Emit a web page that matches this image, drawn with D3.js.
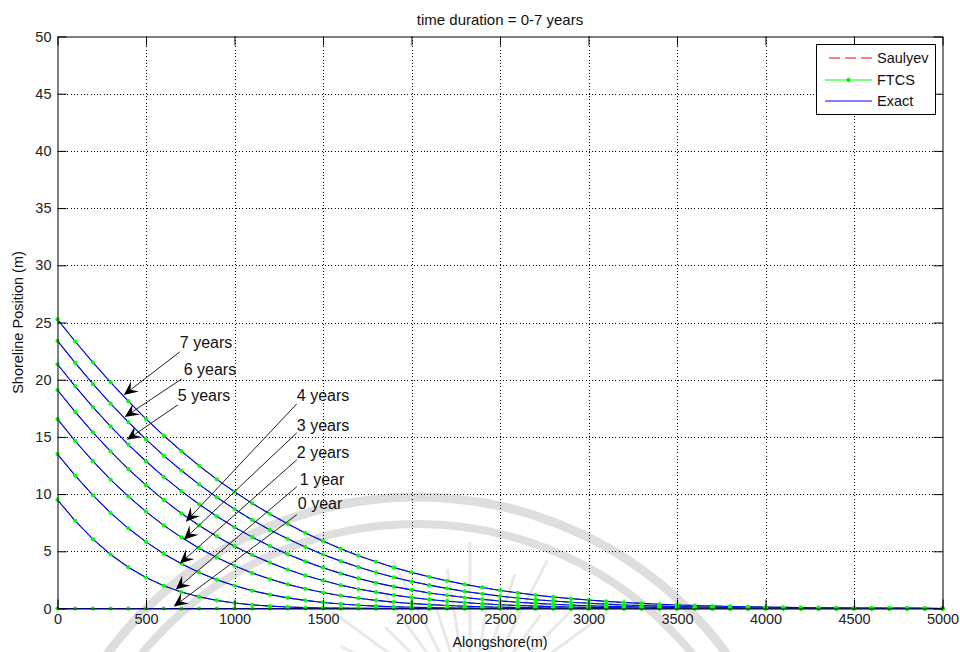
<!DOCTYPE html>
<html>
<head>
<meta charset="utf-8">
<script src="https://cdn.jsdelivr.net/npm/d3@7"></script>
<style>
  html, body { margin: 0; padding: 0; background: #fff; }
  svg { display: block; font-family: "Liberation Sans", Arial, Helvetica, sans-serif; }
</style>
</head>
<body>
<svg id="chart" width="960" height="652"></svg>
<script>
// Alongshore grid (m)
const alongshore = [0,100,200,300,400,500,600,700,800,900,1000,1100,1200,1300,1400,1500,1600,1700,1800,1900,
  2000,2100,2200,2300,2400,2500,2600,2700,2800,2900,3000,3100,3200,3300,3400,3500,3600,3700,3800,3900,
  4000,4100,4200,4300,4400,4500,4600,4700,4800,4900,5000];

// Shoreline position (m) after each year
const year0 = [0,0,0,0,0,0,0,0,0,0, 0,0,0,0,0,0,0,0,0,0, 0,0,0,0,0,0,0,0,0,0, 0,0,0,0,0,0,0,0,0,0, 0,0,0,0,0,0,0,0,0,0, 0];
const year1 = [9.5,7.66,6.06,4.72,3.61,2.71,1.99,1.44,1.02,0.71, 0.48,0.32,0.21,0.13,0.08,0.05,0.03,0.02,0.01,0.01,
  0,0,0,0,0,0,0,0,0,0, 0,0,0,0,0,0,0,0,0,0, 0,0,0,0,0,0,0,0,0,0, 0];
const year2 = [13.5,11.61,9.90,8.36,7.01,5.82,4.79,3.91,3.15,2.52, 2.00,1.56,1.21,0.93,0.71,0.53,0.40,0.29,0.21,0.15,
  0.11,0.08,0.05,0.04,0.02,0.02,0.01,0.01,0,0, 0,0,0,0,0,0,0,0,0,0, 0,0,0,0,0,0,0,0,0,0, 0];
const year3 = [16.55,14.64,12.88,11.26,9.80,8.47,7.27,6.22,5.27,4.45, 3.73,3.10,2.57,2.11,1.72,1.40,1.12,0.90,0.71,0.56,
  0.44,0.34,0.26,0.20,0.15,0.11,0.09,0.06,0.05,0.03, 0.02,0.02,0.01,0.01,0.01,0,0,0,0,0, 0,0,0,0,0,0,0,0,0,0, 0];
const year4 = [19.1,17.18,15.39,13.73,12.19,10.78,9.49,8.32,7.26,6.30, 5.45,4.68,4.01,3.41,2.89,2.44,2.04,1.70,1.43,1.17,
  0.96,0.79,0.64,0.52,0.41,0.33,0.26,0.21,0.16,0.13, 0.10,0.08,0.06,0.04,0.03,0.03,0.02,0.02,0.01,0.01, 0,0,0,0,0,0,0,0,0,0, 0];
const year5 = [21.35,19.42,17.61,15.92,14.33,12.87,11.51,10.26,9.11,8.06, 7.10,6.24,5.46,4.75,4.12,3.56,3.07,2.63,2.24,1.91,
  1.63,1.36,1.16,0.96,0.80,0.66,0.55,0.45,0.37,0.30, 0.24,0.19,0.16,0.13,0.10,0.08,0.06,0.05,0.04,0.03, 0.03,0.02,0.01,0.01,0.01,0,0,0,0,0, 0];
const year6 = [23.4,21.47,19.63,17.91,16.30,14.78,13.37,12.06,10.85,9.72, 8.69,7.74,6.87,6.09,5.37,4.72,4.14,3.62,3.15,2.73,
  2.36,2.04,1.76,1.49,1.29,1.08,0.92,0.77,0.66,0.54, 0.46,0.38,0.31,0.26,0.21,0.17,0.14,0.11,0.09,0.07, 0.06,0.05,0.04,0.03,0.03,0.02,0.02,0.01,0.01,0.01, 0];
const year7 = [25.28,23.34,21.51,19.77,18.12,16.57,15.12,13.75,12.48,11.29, 10.20,9.19,8.26,7.40,6.61,5.89,5.23,4.62,4.08,3.59,
  3.16,2.77,2.42,2.11,1.84,1.58,1.37,1.17,1.01,0.86, 0.74,0.62,0.53,0.45,0.37,0.31,0.26,0.22,0.18,0.15, 0.12,0.10,0.08,0.07,0.06,0.04,0.04,0.03,0.03,0.02, 0];

const years = [year0, year1, year2, year3, year4, year5, year6, year7];

// Tick labels
const xTicks = [0,500,1000,1500,2000,2500,3000,3500,4000,4500,5000];
const yTicks = [0,5,10,15,20,25,30,35,40,45,50];

// Legend entries
const legendNames = ["Saulyev", "FTCS", "Exact"];

// Year annotations: label, text anchor, arrow start, arrow tip (data units)
const noteLabels = ["7 years","6 years","5 years","4 years","3 years","2 years","1 year","0 year"];
const noteText  = [[691,23.25],[713,20.94],[680,18.67],[1352,18.67],[1352,16.06],[1352,13.70],[1369,11.34],[1358,9.16]];
const noteFrom  = [[691,22.43],[702,20.07],[680,17.80],[1352,17.89],[1352,15.36],[1352,13.00],[1352,10.65],[1352,8.20]];
const noteTo    = [[375,18.67],[380,16.75],[392,14.75],[725,7.59],[714,6.02],[691,3.93],[668,1.66],[657,0.17]];

(function () {
  const svg = d3.select("#chart");
  const W = 960, H = 652;
  const pL = 57.5, pR = 942.5, pT = 36.5, pB = 608.5;

  const x = d3.scaleLinear().domain([0, 5000]).range([pL, pR]);
  const y = d3.scaleLinear().domain([0, 50]).range([pB, pT]);

  svg.append("rect").attr("width", W).attr("height", H).attr("fill", "#fff");

  // faint emblem behind the plot
  const emb = svg.append("g").attr("fill", "none").attr("stroke", "#000");
  [[384, 9], [357, 8]].forEach(([r, w]) => {
    emb.append("circle").attr("cx", 417).attr("cy", 881).attr("r", r)
      .attr("stroke-width", w).attr("stroke-opacity", 0.13);
  });
  d3.range(198, 346, 9).forEach((a, i) => {
    const rad = a * Math.PI / 180;
    const r0 = 60, r1 = 120 + (i % 3) * 25;
    emb.append("line")
      .attr("x1", 470 + r0 * Math.cos(rad)).attr("y1", 712 + r0 * Math.sin(rad))
      .attr("x2", 470 + r1 * Math.cos(rad)).attr("y2", 712 + r1 * Math.sin(rad))
      .attr("stroke-width", 3).attr("stroke-opacity", 0.09);
  });

  // grid
  const grid = svg.append("g").attr("stroke", "#000").attr("stroke-width", 1)
    .attr("stroke-dasharray", "1,2.3").attr("shape-rendering", "crispEdges");
  xTicks.slice(1, -1).forEach(t => {
    grid.append("line").attr("x1", Math.round(x(t)) + 0.5).attr("x2", Math.round(x(t)) + 0.5)
      .attr("y1", pT).attr("y2", pB);
  });
  yTicks.slice(1, -1).forEach(t => {
    grid.append("line").attr("y1", Math.round(y(t)) + 0.5).attr("y2", Math.round(y(t)) + 0.5)
      .attr("x1", pL).attr("x2", pR);
  });

  // curves: Saulyev (red dashed), FTCS (green), Exact (blue)
  const line = d3.line().x((d, i) => x(alongshore[i])).y(d => y(d));
  const plot = svg.append("g");
  years.forEach(v => {
    plot.append("path").attr("d", line(v)).attr("fill", "none")
      .attr("stroke", "#ff0000").attr("stroke-width", 1).attr("stroke-dasharray", "6,4");
    plot.append("path").attr("d", line(v)).attr("fill", "none")
      .attr("stroke", "#00ff00").attr("stroke-width", 0.8);
    plot.append("path").attr("d", line(v)).attr("fill", "none")
      .attr("stroke", "#0000ff").attr("stroke-width", 1.1);
  });
  years.forEach(v => {
    plot.append("g").selectAll("circle").data(v).join("circle")
      .attr("cx", (d, i) => x(alongshore[i])).attr("cy", d => y(d))
      .attr("r", 2.1).attr("fill", "#00ff00");
  });

  // axes
  const fmt = d3.format("d");
  const axB = svg.append("g").attr("transform", `translate(0,${pB})`)
    .call(d3.axisBottom(x).tickValues(xTicks).tickFormat(fmt).tickSizeInner(-9).tickSizeOuter(0).tickPadding(5));
  const axT = svg.append("g").attr("transform", `translate(0,${pT})`)
    .call(d3.axisTop(x).tickValues(xTicks).tickFormat("").tickSizeInner(-9).tickSizeOuter(0));
  const axL = svg.append("g").attr("transform", `translate(${pL},0)`)
    .call(d3.axisLeft(y).tickValues(yTicks).tickFormat(fmt).tickSizeInner(-9).tickSizeOuter(0).tickPadding(6));
  const axR = svg.append("g").attr("transform", `translate(${pR},0)`)
    .call(d3.axisRight(y).tickValues(yTicks).tickFormat("").tickSizeInner(-9).tickSizeOuter(0));
  [axB, axT, axL, axR].forEach(g => {
    g.selectAll("path.domain").attr("stroke", "#000").attr("stroke-width", 1);
    g.selectAll(".tick line").attr("stroke", "#000");
    g.selectAll("text").attr("fill", "#222").style("font-size", "14.5px")
      .style("font-family", "'Liberation Sans', Arial, sans-serif");
  });

  // titles
  svg.append("text").attr("x", (pL + pR) / 2).attr("y", 25).attr("text-anchor", "middle")
    .style("font-size", "15px").attr("fill", "#111").text("time duration = 0-7 years");
  svg.append("text").attr("x", (pL + pR) / 2).attr("y", 647).attr("text-anchor", "middle")
    .style("font-size", "14.5px").attr("fill", "#111").text("Alongshore(m)");
  svg.append("text").attr("transform", `translate(23,${(pT + pB) / 2}) rotate(-90)`)
    .attr("text-anchor", "middle").style("font-size", "14.5px").attr("fill", "#111")
    .text("Shoreline Position (m)");

  // year annotations with arrows
  const notes = svg.append("g");
  noteLabels.forEach((lab, i) => {
    const [tx, ty] = noteText[i];
    notes.append("text").attr("x", x(tx)).attr("y", y(ty)).attr("dy", "0.36em")
      .style("font-size", "16px").attr("fill", "#111").text(lab);
    const sx = x(noteFrom[i][0]), sy = y(noteFrom[i][1]);
    const ex = x(noteTo[i][0]), ey = y(noteTo[i][1]);
    const ang = Math.atan2(ey - sy, ex - sx);
    const L = 14, Wd = 6.5, N = 0.6;
    const c = Math.cos(ang), s = Math.sin(ang);
    const pt = (u, v) => [ex + u * c - v * s, ey + u * s + v * c];
    notes.append("line").attr("x1", sx).attr("y1", sy)
      .attr("x2", pt(-L * N, 0)[0]).attr("y2", pt(-L * N, 0)[1])
      .attr("stroke", "#222").attr("stroke-width", 1);
    notes.append("path")
      .attr("d", "M" + [pt(0, 0), pt(-L, Wd), pt(-L * N, 0), pt(-L, -Wd)].map(p => p.join(",")).join("L") + "Z")
      .attr("fill", "#000");
  });

  // legend
  const lg = svg.append("g");
  lg.append("rect").attr("x", 816.5).attr("y", 44.5).attr("width", 119).attr("height", 70)
    .attr("fill", "#fff").attr("stroke", "#000").attr("stroke-width", 1);
  const legY = [58, 80, 101];
  const legStyle = [
    { color: "#ff0000", dash: "11,5" },
    { color: "#00ff00", dash: null },
    { color: "#0000ff", dash: null }
  ];
  legendNames.forEach((name, i) => {
    const ln = lg.append("line").attr("x1", 825).attr("x2", 872).attr("y1", legY[i]).attr("y2", legY[i])
      .attr("stroke", legStyle[i].color).attr("stroke-width", 1);
    if (legStyle[i].dash) ln.attr("stroke-dasharray", legStyle[i].dash).attr("stroke-dashoffset", -4);
    if (i === 1) lg.append("circle").attr("cx", 848.5).attr("cy", legY[i]).attr("r", 2.2).attr("fill", "#00ff00");
    lg.append("text").attr("x", 877).attr("y", legY[i]).attr("dy", "0.36em")
      .style("font-size", "14.5px").attr("fill", "#111").text(name);
  });
})();
</script>
</body>
</html>
